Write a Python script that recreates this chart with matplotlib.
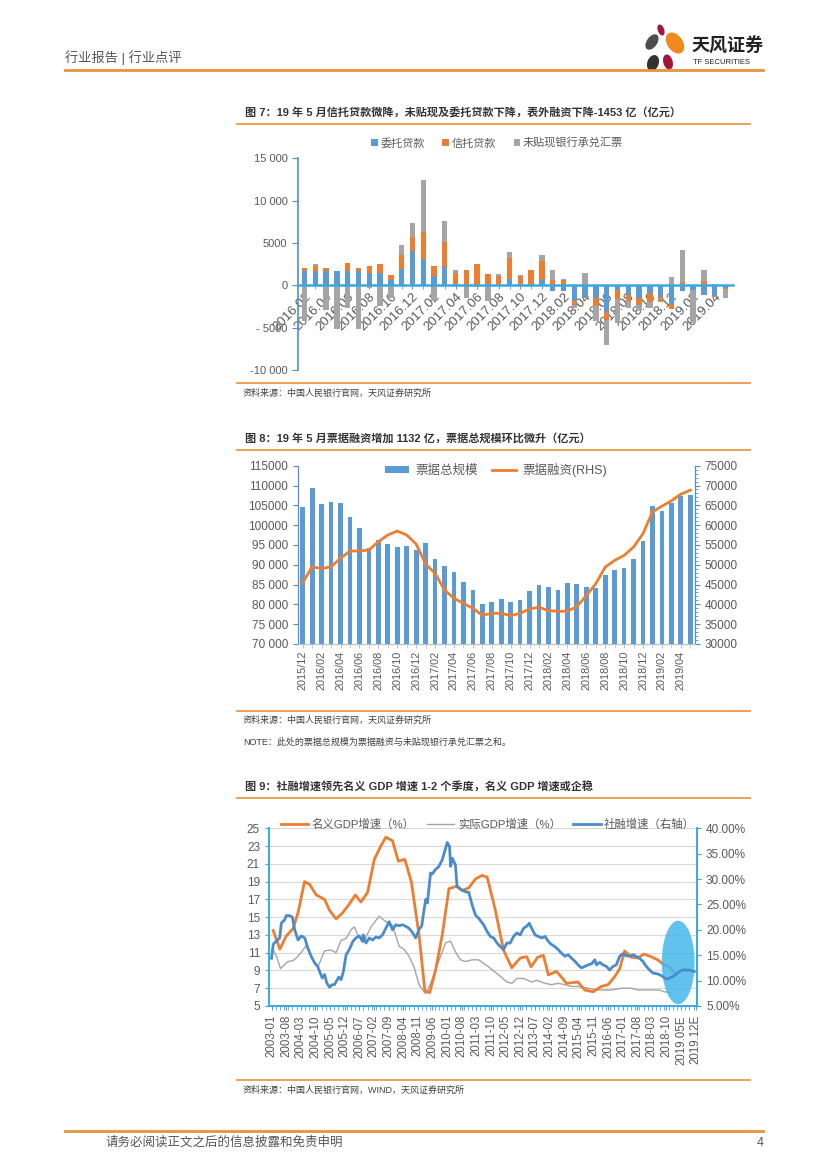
import numpy as np
import matplotlib
matplotlib.use('Agg')
import matplotlib.pyplot as plt
from matplotlib.patches import Ellipse, Patch
from matplotlib.lines import Line2D
from matplotlib.ticker import MultipleLocator, FixedLocator

plt.rcParams['font.family'] = ['Liberation Sans', 'Noto Sans CJK SC']
plt.rcParams['axes.unicode_minus'] = False

# ---------------- 数据 ----------------
# 图7：表外融资分项（亿元），2016.02 - 2019.05
x7_labels = ['2016.02', '2016.04', '2016.06', '2016.08', '2016.10', '2016.12',
             '2017.02', '2017.04', '2017.06', '2017.08', '2017.10', '2017.12',
             '2018.02', '2018.04', '2018.06', '2018.08', '2018.10', '2018.12',
             '2019.02', '2019.04']
entrusted = [1650, 1650, 1700, 1700, 1700, 1700, 1450, 1450, 670, 1960,
             4000, 3140, 1140, 2160, 150, 80, -100, 100, 80, 750,
             50, 200, 600, -700, -700, -1900, -1400, -1500, -3100, -600,
             -1200, -1500, -900, -1400, -2150, -700, -500, -1100, -1300, -300]
trust = [400, 650, 300, 50, 900, 350, 800, 1050, 600, 1570,
         1760, 3200, 1100, 3000, 1300, 1770, 2500, 1270, 1000, 2450,
         1000, 1600, 2300, 600, 670, -400, -100, -900, -1050, -1000,
         -670, -800, -1100, -470, -630, 350, -100, 470, -100, -100]
undiscounted = [-4200, 250, -2900, -5100, -2700, -5100, -300, -2500, -1500, 1250,
                1650, 6150, -1800, 2450, 400, -1500, -150, -1900, 300, 750,
                200, 50, 700, 1200, 100, -400, 1500, -1850, -2850, -2900,
                -800, -600, -670, -100, 1000, 3850, -3900, 1380, 200, -1100]
y7_ticks = [-10000, -5000, 0, 5000, 10000, 15000]
y7_labels = ['-10 000', '- 5000', '0', '5000', '10 000', '15 000']

# 图8：票据总规模（左轴）与票据融资（右轴），2015/12 - 2019/05
x8_labels = ['2015/12', '2016/02', '2016/04', '2016/06', '2016/08', '2016/10',
             '2016/12', '2017/02', '2017/04', '2017/06', '2017/08', '2017/10',
             '2017/12', '2018/02', '2018/04', '2018/06', '2018/08', '2018/10',
             '2018/12', '2019/02', '2019/04']
bill_total = [104500, 109450, 105300, 105800, 105500, 102100, 99270, 94300, 96250, 95240,
              94500, 94730, 93700, 95570, 91360, 89770, 88170, 85560, 83710, 80100,
              80520, 81360, 80700, 81200, 83330, 84930, 84430, 83750, 85440, 85200,
              84430, 84170, 87300, 88560, 89150, 91520, 96000, 104950, 103510, 105460,
              107320, 107570]
bill_fin = [45480, 49520, 49010, 49520, 51620, 53470, 53470, 53720, 55820, 57500,
            58510, 57500, 55230, 50190, 47830, 43630, 41530, 40270, 39000, 37250,
            37750, 37750, 37160, 37750, 38850, 39270, 38430, 38260, 38260, 39440,
            42230, 45190, 49410, 51100, 52360, 54480, 57850, 63340, 64780, 66130,
            67820, 68830]
y8l_labels = ['70 000', '75 000', '80 000', '85 000', '90 000', '95 000',
              '100000', '105000', '110000', '115000']
y8r_labels = ['30000', '35000', '40000', '45000', '50000', '55000',
              '60000', '65000', '70000', '75000']

# 图9：月序号（0 = 2003-01）与读数
x9_labels = ['2003-01', '2003-08', '2004-03', '2004-10', '2005-05', '2005-12',
             '2006-07', '2007-02', '2007-09', '2008-04', '2008-11', '2009-06',
             '2010-01', '2010-08', '2011-03', '2011-10', '2012-05', '2012-12',
             '2013-07', '2014-02', '2014-09', '2015-04', '2015-11', '2016-06',
             '2017-01', '2017-08', '2018-03', '2018-10', '2019.05E', '2019.12E']
nom_month = [0.8, 4.0, 7.1, 10.3, 12.7, 15.8, 18.2, 21.4, 25.4, 27.7,
             30.9, 34.1, 37.3, 40.1, 42.8, 46.0, 49.2, 52.3, 54.7, 57.9,
             60.7, 63.8, 66.9, 70.6, 73.4, 75.7, 78.5, 81.7, 84.9, 88.8,
             91.2, 94.4, 97.6, 100.8, 103.2, 107.1, 111.0, 115.0, 119.0, 122.1,
             124.2, 127.4, 130.1, 132.5, 136.4, 141.2, 146.7, 149.9, 153.9, 157.8,
             161.0, 164.2, 166.6, 169.0, 172.1, 175.3, 178.2, 181.6, 184.8, 188.0,
             190.4, 192.8]
nom_gdp = [13.5, 11.4, 12.9, 13.7, 15.5, 19.0, 18.7, 17.5, 17.0, 15.8,
           14.8, 15.5, 16.5, 17.5, 16.7, 17.8, 21.5, 23.0, 24.0, 23.6,
           21.3, 21.5, 19.0, 13.0, 6.7, 6.5, 9.0, 13.0, 18.2, 18.5,
           18.0, 18.3, 19.3, 19.7, 19.5, 15.8, 11.3, 9.3, 10.4, 10.55,
           9.4, 10.5, 10.7, 8.5, 8.9, 7.55, 7.7, 6.8, 6.6, 7.2,
           7.4, 8.3, 9.2, 11.2, 10.5, 10.4, 10.85, 10.55, 10.2, 9.6,
           9.4, 8.7]
real_month = [0.8, 2.4, 4.3, 6.3, 7.9, 10.3, 12.7, 15.1, 16.6, 19.0,
              22.2, 25.4, 28.6, 30.9, 33.3, 35.7, 38.1, 39.6, 41.7, 44.4,
              47.6, 51.5, 54.7, 57.9, 61.1, 63.4, 65.8, 68.2, 70.6, 73.0,
              73.8, 76.1, 78.5, 80.9, 83.3, 85.7, 88.0, 90.4, 92.8, 96.0,
              99.1, 103.9, 108.7, 112.6, 115.0, 117.4, 120.6, 124.5, 126.9, 130.9,
              134.0, 137.2, 140.4, 143.6, 146.7, 151.5, 156.3, 162.6, 167.4, 172.1,
              175.3, 181.6, 185.6, 188.0, 191.2]
real_gdp = [11.3, 10.6, 9.2, 9.7, 10.0, 10.1, 10.6, 11.3, 11.8, 10.5,
            9.4, 11.2, 11.3, 11.0, 12.4, 12.6, 13.6, 13.9, 12.8, 12.4,
            13.9, 15.1, 14.5, 14.1, 11.7, 11.4, 10.6, 9.4, 7.4, 6.6,
            6.4, 7.5, 9.1, 10.6, 12.1, 12.3, 11.1, 10.2, 10.0, 10.2,
            10.2, 9.4, 8.5, 7.7, 7.55, 8.1, 8.1, 7.7, 7.9, 7.55,
            7.4, 7.55, 7.4, 7.2, 7.2, 7.0, 6.8, 6.8, 7.0, 7.0,
            6.8, 6.8, 6.8, 6.6, 6.5]
sf_month = [0, 0.8, 1.6, 3.9, 4.7, 6.3, 7.1, 8.7, 10.0, 11.1,
            12.7, 14.3, 15.9, 17.4, 19.0, 20.6, 22.2, 23.0, 24.3, 25.4,
            26.5, 27.8, 29.0, 30.1, 32.2, 33.3, 34.4, 35.7, 37.3, 38.9,
            40.4, 42.0, 43.6, 43.9, 45.2, 46.8, 48.4, 50.0, 51.5, 53.1,
            54.7, 56.3, 57.9, 59.5, 61.1, 62.7, 64.2, 65.8, 67.4, 69.0,
            70.6, 71.9, 73.0, 73.8, 74.6, 76.1, 76.9, 78.5, 80.1, 81.7,
            83.3, 84.1, 85.2, 85.7, 86.5, 88.0, 88.8, 90.4, 92.8, 94.4,
            96.0, 97.6, 99.1, 101.5, 103.1, 104.7, 106.3, 107.9, 109.5, 111.0,
            112.6, 114.2, 115.8, 117.4, 119.0, 120.6, 122.1, 123.3, 124.5, 126.1,
            127.7, 129.3, 130.9, 132.5, 134.0, 135.6, 137.2, 138.8, 140.4, 142.0,
            143.6, 145.2, 146.7, 148.3, 149.9, 151.5, 153.1, 154.7, 155.5, 157.1,
            158.6, 160.2, 161.8, 163.4, 165.0, 166.6, 168.2, 169.7, 171.3, 172.9,
            174.5, 176.1, 177.7, 179.3, 180.9, 182.4, 184.0, 185.6, 187.2, 188.8,
            190.4, 192.0, 193.5, 195.1, 196.7, 198.3, 200.7, 202.3]
sf_growth = [14.4, 17.1, 17.5, 18.4, 21.3, 22.0, 22.8, 22.8, 22.5, 20.0,
             18.0, 18.8, 18.4, 16.4, 14.8, 13.5, 12.7, 11.8, 10.5, 11.2,
             9.5, 8.7, 9.2, 9.2, 10.7, 10.2, 11.8, 15.1, 16.2, 17.7,
             18.4, 18.8, 17.7, 19.0, 17.4, 18.4, 18.0, 18.6, 18.4, 19.0,
             20.3, 21.6, 20.0, 21.0, 20.8, 21.0, 20.7, 20.3, 19.5, 18.4,
             20.1, 20.8, 24.0, 26.0, 25.3, 31.2, 31.0, 31.9, 32.5, 33.8,
             36.1, 37.2, 36.4, 32.5, 34.1, 32.8, 28.5, 28.0, 27.5, 27.4,
             24.9, 22.9, 22.3, 21.0, 19.7, 18.7, 18.4, 17.4, 16.7, 16.1,
             17.4, 17.4, 18.7, 19.4, 19.0, 20.3, 20.7, 21.3, 20.3, 19.0,
             18.7, 18.4, 18.7, 17.7, 17.1, 16.7, 16.1, 15.4, 14.8, 15.1,
             14.4, 13.8, 13.1, 12.5, 12.8, 13.1, 13.3, 14.1, 13.1, 13.6,
             13.1, 12.8, 12.1, 12.8, 13.1, 14.8, 15.3, 14.9, 14.8, 15.1,
             14.8, 14.4, 13.8, 12.8, 12.1, 11.5, 11.4, 11.2, 10.8, 10.3,
             10.5, 10.8, 11.2, 11.8, 12.1, 12.1, 12.0, 11.8]

BLUE, ORANGE, GREY = '#5B9BD5', '#ED7D31', '#A5A5A5'
AXBLUE = '#3AA8E0'
TXT = '#595959'
LINE_OR = '#EE9A45'

W, H = 827, 1170


def box(x0, y0, x1, y1):
    return [x0 / W, 1 - y1 / H, (x1 - x0) / W, (y1 - y0) / H]


fig = plt.figure(figsize=(8.27, 11.7), dpi=100)

# 页面背景层（像素坐标）
bg = fig.add_axes([0, 0, 1, 1])
bg.set_xlim(0, W)
bg.set_ylim(H, 0)
bg.axis('off')

# 页眉
bg.text(65, 58, '行业报告 | 行业点评', fontsize=9.5, color='#555555', va='center')
bg.plot([65, 763], [70, 70], color='#E8943A', lw=2)
for (cx, cy, w, h, ang, col) in [(661, 30, 5, 10, -20, '#A3173A'),
                                 (652, 42, 9, 16, 35, '#4D4D4D'),
                                 (675, 43, 14, 22, -35, '#F08A1C'),
                                 (668, 62, 8, 14, -15, '#A3173A'),
                                 (653, 63, 10, 15, 20, '#333333')]:
    bg.add_patch(Ellipse((cx, cy), w, h, angle=ang, color=col))
bg.text(692, 47, '天风证券', fontsize=13, fontweight='bold', color='#222222', va='center')
bg.text(693, 63, 'TF SECURITIES', fontsize=5.5, color='#222222', va='center')

# 标题、分隔线、来源
titles = [(112, '图 7：19 年 5 月信托贷款微降，未贴现及委托贷款下降，表外融资下降-1453 亿（亿元）'),
          (438, '图 8：19 年 5 月票据融资增加 1132 亿，票据总规模环比微升（亿元）'),
          (787, '图 9：社融增速领先名义 GDP 增速 1-2 个季度，名义 GDP 增速或企稳')]
for y, t in titles:
    bg.text(245, y, t, fontsize=8, fontweight='bold', color='#333333', va='center')
for y in [124, 383, 450, 711, 798, 1080]:
    bg.plot([237, 750], [y, y], color=LINE_OR, lw=1.3)
notes = [(393, '资料来源：中国人民银行官网，天风证券研究所'),
         (720, '资料来源：中国人民银行官网，天风证券研究所'),
         (742, 'NOTE：此处的票据总规模为票据融资与未贴现银行承兑汇票之和。'),
         (1090, '资料来源：中国人民银行官网，WIND，天风证券研究所')]
for y, t in notes:
    bg.text(243, y, t, fontsize=6.5, color='#404040', va='center')

# 页脚
bg.plot([65, 763], [1131, 1131], color='#E8943A', lw=2)
bg.text(105, 1143, '请务必阅读正文之后的信息披露和免责申明', fontsize=9, color='#555555', va='center')
bg.text(757, 1143, '4', fontsize=9, color='#555555', va='center')

# ---------------- 图7 ----------------
ax7 = fig.add_axes(box(298, 158.3, 733, 370))
x7 = np.arange(len(entrusted))
pos_b = np.zeros(len(x7))
neg_b = np.zeros(len(x7))
for vals, col, name in [(entrusted, BLUE, '委托贷款'), (trust, ORANGE, '信托贷款'),
                        (undiscounted, GREY, '未贴现银行承兑汇票')]:
    v = np.array(vals, dtype=float)
    bottom = np.where(v >= 0, pos_b, neg_b)
    ax7.bar(x7, v, 0.5, bottom=bottom, color=col, label=name, zorder=2)
    pos_b += np.clip(v, 0, None)
    neg_b += np.clip(v, None, 0)
ax7.set_xlim(-0.6, 39.7)
ax7.set_ylim(-10000, 15000)
for s in ['top', 'right']:
    ax7.spines[s].set_visible(False)
ax7.spines['left'].set_color('#4A90D9')
ax7.spines['left'].set_linewidth(1.2)
ax7.spines['bottom'].set_position(('data', 0))
ax7.spines['bottom'].set_color(AXBLUE)
ax7.spines['bottom'].set_linewidth(1.8)
ax7.spines['bottom'].set_zorder(3)
ax7.set_yticks(y7_ticks, y7_labels)
ax7.set_xticks(x7[::2], x7_labels)
ax7.xaxis.set_minor_locator(FixedLocator(x7[1::2]))
ax7.tick_params(axis='y', colors='#4A90D9', labelcolor=TXT, labelsize=8, length=4)
ax7.tick_params(axis='x', which='both', colors=AXBLUE, labelcolor=TXT, labelsize=9.5,
                length=3, pad=1)
plt.setp(ax7.get_xticklabels(), rotation=45, ha='right', rotation_mode='anchor')
fig.legend(*ax7.get_legend_handles_labels(), loc='center', ncol=3,
           bbox_to_anchor=(497 / W, 1 - 143 / H), frameon=False, fontsize=8,
           handlelength=0.6, handleheight=0.6, handletextpad=0.2, columnspacing=1.6,
           labelcolor=TXT)

# ---------------- 图8 ----------------
ax8 = fig.add_axes(box(298, 465.7, 695, 644))
x8 = np.arange(len(bill_total))
ax8.bar(x8, bill_total, 0.5, color=BLUE, label='票据总规模', zorder=2)
ax8.set_xlim(-0.5, len(x8) - 0.5)
ax8.set_ylim(70000, 115000)
ax8.set_yticks(np.arange(70000, 115001, 5000), y8l_labels)
ax8.set_xticks(x8[::2], x8_labels, rotation=90)
ax8.xaxis.set_minor_locator(FixedLocator(x8[1::2]))
ax8r = ax8.twinx()
ax8r.plot(x8, bill_fin, color=ORANGE, lw=2, label='票据融资(RHS)', zorder=3)
ax8r.set_ylim(30000, 75000)
ax8r.set_yticks(np.arange(30000, 75001, 5000), y8r_labels)
ax8r.yaxis.set_minor_locator(MultipleLocator(1000))
for a in (ax8, ax8r):
    a.spines['top'].set_visible(False)
    a.spines['left'].set_color('#4A90D9')
    a.spines['right'].set_color('#4A90D9')
    a.spines['bottom'].set_color('#BFBFBF')
    a.tick_params(axis='y', which='both', colors='#4A90D9', labelcolor=TXT, labelsize=8.5)
ax8r.tick_params(axis='y', which='minor', length=2)
ax8.tick_params(axis='x', which='both', colors='#BFBFBF', labelcolor=TXT, labelsize=7.8,
                length=3, pad=2)
h1, l1 = ax8.get_legend_handles_labels()
h2, l2 = ax8r.get_legend_handles_labels()
fig.legend(h1 + h2, l1 + l2, loc='center', ncol=2, bbox_to_anchor=(496 / W, 1 - 470 / H),
           frameon=False, fontsize=9, handlelength=1.9, handleheight=0.5,
           handletextpad=0.5, columnspacing=1.2, labelcolor=TXT)

# ---------------- 图9 ----------------
ax9 = fig.add_axes(box(269, 828.3, 697, 1006))
ax9.plot(nom_month, nom_gdp, color=ORANGE, lw=2, label='名义GDP增速（%）', zorder=3)
ax9.plot(real_month, real_gdp, color=GREY, lw=1, label='实际GDP增速（%）', zorder=2)
ax9.set_xlim(-1.2, 203.6)
ax9.set_ylim(5, 25)
ax9.set_yticks(np.arange(5, 26, 2))
ax9.yaxis.grid(True, color='#D9D9D9', lw=0.8, zorder=0)
ax9.set_axisbelow(True)
ax9.set_xticks(np.arange(0, 204, 7), x9_labels, rotation=90)
ax9.xaxis.set_minor_locator(MultipleLocator(2))
ax9.add_patch(Ellipse((194.6, 9.9), 15.7, 9.4, color='#45B8EC', alpha=0.85, lw=0, zorder=4))
ax9r = ax9.twinx()
ax9r.plot(sf_month, sf_growth, color='#4A8BCB', lw=2, label='社融增速（右轴）', zorder=3)
ax9r.set_ylim(5, 40)
ax9r.set_yticks(np.arange(5, 41, 5), [f'{v:.2f}%' for v in range(5, 41, 5)])
for a in (ax9, ax9r):
    a.spines['top'].set_visible(False)
    for s in ['left', 'right', 'bottom']:
        a.spines[s].set_color(AXBLUE)
        a.spines[s].set_linewidth(1.2)
    a.tick_params(axis='y', colors=AXBLUE, labelcolor=TXT, labelsize=8.5, length=3)
ax9.tick_params(axis='x', which='both', colors=AXBLUE, labelcolor=TXT, labelsize=8.3, length=3)
h1, l1 = ax9.get_legend_handles_labels()
h2, l2 = ax9r.get_legend_handles_labels()
fig.legend(h1 + h2, l1 + l2, loc='center', ncol=3, bbox_to_anchor=(488 / W, 1 - 824 / H),
           frameon=False, fontsize=8.2, handlelength=2.4, columnspacing=1.1,
           handletextpad=0.3, labelcolor=TXT)

fig.savefig('out.png', dpi=100)
